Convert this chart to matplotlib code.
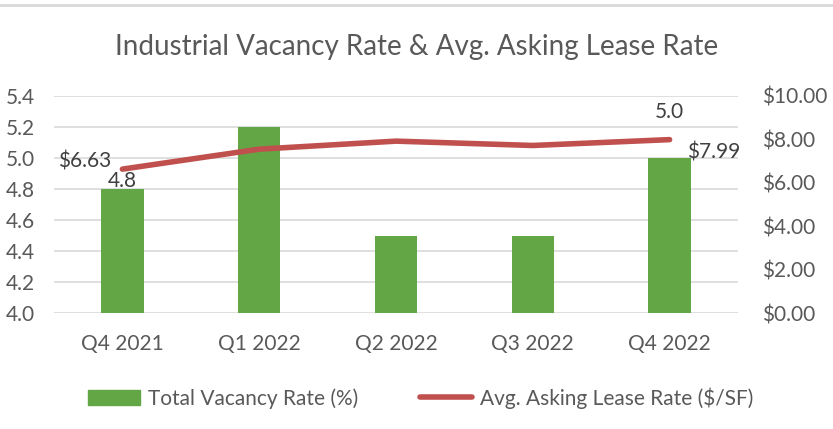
import matplotlib.pyplot as plt
from matplotlib.lines import Line2D
import numpy as np

quarters = ["Q4 2021", "Q1 2022", "Q2 2022", "Q3 2022", "Q4 2022"]
vacancy = [4.8, 5.2, 4.5, 4.5, 5.0]
lease = [6.63, 7.55, 7.92, 7.72, 7.99]
left_ticks = [4.0, 4.2, 4.4, 4.6, 4.8, 5.0, 5.2, 5.4]
right_ticks = [0, 2, 4, 6, 8, 10]

GREEN = "#63A645"
RED = "#C0504D"
GRAY = "#595959"
FS = 15


def main():
    plt.rcParams["font.family"] = ["Lato", "DejaVu Sans"]
    fig = plt.figure(figsize=(8.33, 4.29), dpi=100)
    ax = fig.add_axes([54 / 833, 1 - 313 / 429, 684 / 833, 217 / 429])
    ax2 = ax.twinx()

    x = np.arange(len(quarters))
    ax.bar(x, vacancy, width=0.31, color=GREEN, zorder=2)
    ax2.plot(x, lease, color=RED, lw=4, solid_capstyle="round", zorder=3)

    ax.set_xlim(-0.5, len(quarters) - 0.5)
    ax.set_ylim(4.0, 5.4)
    ax2.set_ylim(0, 10)
    ax.set_yticks(left_ticks, [f"{v:.1f}" for v in left_ticks])
    ax2.set_yticks(right_ticks, [f"${v:.2f}" for v in right_ticks])
    ax.set_xticks(x, quarters)

    for a in (ax, ax2):
        for s in a.spines.values():
            s.set_visible(False)
        a.tick_params(length=0, colors=GRAY, labelsize=FS)
    ax.tick_params(axis="y", pad=14)
    ax2.tick_params(axis="y", pad=17)
    ax.tick_params(axis="x", pad=15)
    ax.grid(axis="y", color="#D9D9D9", lw=1.2, zorder=0)
    ax.set_axisbelow(True)

    # data labels
    ax.text(x[0], vacancy[0] - 0.01, "4.8", ha="center", va="bottom", fontsize=FS, color="#404040")
    ax.text(x[4], 5.3, "5.0", ha="center", va="center", fontsize=FS, color="#404040")
    ax2.text(x[0] - 0.08, lease[0] + 0.35, "$6.63", ha="right", va="center", fontsize=FS, color="#404040")
    ax2.text(x[4] + 0.13, lease[4] - 0.6, "$7.99", ha="left", va="center", fontsize=FS, color="#404040")

    fig.text(0.5, 1 - 47 / 429, "Industrial Vacancy Rate & Avg. Asking Lease Rate",
             ha="center", va="center", fontsize=20, color=GRAY)

    handles = [plt.Rectangle((0, 0), 1, 1, color=GREEN),
               Line2D([], [], color=RED, lw=4, solid_capstyle="round")]
    fig.legend(handles, ["Total Vacancy Rate (%)", "Avg. Asking Lease Rate ($/SF)"],
               loc="center", bbox_to_anchor=(0.505, 1 - 398 / 429), ncol=2, frameon=False,
               fontsize=FS, labelcolor=GRAY, handlelength=2.5, handleheight=0.75,
               handletextpad=0.35, columnspacing=3.0)

    fig.add_artist(Line2D([0, 1], [1 - 5 / 429, 1 - 5 / 429], color="#D9D9D9", lw=2,
                          transform=fig.transFigure))

    fig.savefig("out.png", dpi=100)


if __name__ == "__main__":
    main()
